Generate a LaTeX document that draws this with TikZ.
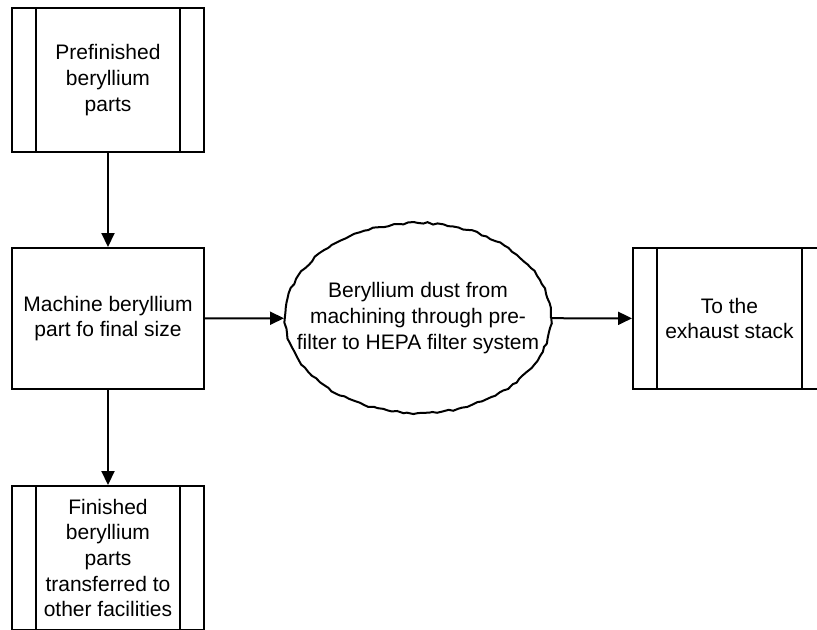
\documentclass[tikz,border=0pt]{standalone}
\usepackage{fontspec}
\setmainfont{Liberation Sans}
\usetikzlibrary{arrows.meta,shapes.geometric,decorations.pathmorphing}
\begin{document}
\begin{tikzpicture}[x=0.5pt, y=-0.5pt,
    txt/.style={align=center, font=\fontsize{10.5}{12.8}\selectfont},
    box/.style={draw, line width=1pt, minimum width=96pt, minimum height=72pt, inner sep=0pt, txt},
    predef/.style={box, path picture={
        \draw[line width=1pt] ([xshift=12pt]path picture bounding box.north west) -- ([xshift=12pt]path picture bounding box.south west);
        \draw[line width=1pt] ([xshift=-12pt]path picture bounding box.north east) -- ([xshift=-12pt]path picture bounding box.south east);}},
    cloud/.style={ellipse, draw, line width=1pt, minimum width=133pt, minimum height=95pt, inner sep=0pt,
        decorate, decoration={random steps, segment length=2.5pt, amplitude=0.5pt}},
    flow/.style={-{Triangle[length=7pt,width=6.5pt]}, line width=1pt}]
    \clip (0,0) rectangle (817,629);
    % Process boxes
    \node[predef] (prefin) at (108,80) {Prefinished\\beryllium\\parts};
    \node[box, minimum height=70.5pt] (machine) at (108,318.5) {Machine beryllium\\part fo final size};
    \pgfmathsetseed{7}
    \node[cloud, label={[txt]center:Beryllium dust from\\machining through pre-\\filter to HEPA filter system}] (dust) at (418,318) {};
    \node[predef, minimum width=96.5pt, minimum height=70.5pt] (exhaust) at (729.5,318.5) {To the\\exhaust stack};
    \node[predef] (finished) at (108,558) {Finished\\beryllium\\parts\\transferred to\\other facilities};
    % Arrows
    \draw[flow] (prefin) -- (machine);
    \draw[flow] (machine) -- (dust);
    \draw[flow] (dust) -- (exhaust);
    \draw[flow] (machine) -- (finished);
\end{tikzpicture}
\end{document}
